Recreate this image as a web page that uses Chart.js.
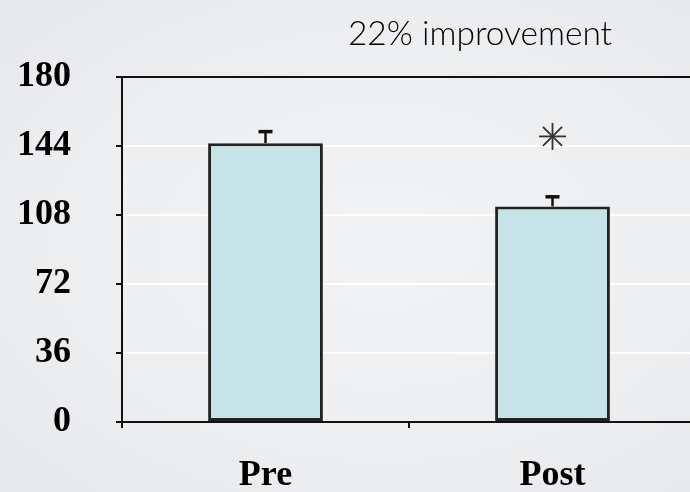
<!DOCTYPE html>
<html>
<head>
<meta charset="utf-8">
<script src="https://cdn.jsdelivr.net/npm/chart.js@4/dist/chart.umd.min.js"></script>
<style>
  html, body { margin: 0; padding: 0; width: 690px; height: 492px; overflow: hidden; }
  body {
    background: radial-gradient(ellipse at 55% 50%, #f2f3f5 0%, #eceef0 60%, #e6e8eb 100%);
    position: relative;
  }
  #wrap { position: absolute; left: 0; top: 0; width: 696px; height: 492px; }
  #title {
    position: absolute; left: 480px; top: 12px; transform: translateX(-50%);
    font-family: Lato, "Open Sans", sans-serif; font-weight: 300; font-size: 33.5px;
    color: #000; white-space: nowrap;
  }
</style>
</head>
<body>
<div id="wrap"><canvas id="c"></canvas></div>
<div id="title">22% improvement</div>
<script>
// Session means with their standard errors
const categories = ['Pre', 'Post'];
const means = [145.5, 112.5];
const errors = [6, 5];
const yTicks = [0, 36, 72, 108, 144, 180];
// significance marker sits above the second bar
const markerValue = 149;

const errorBars = {
  id: 'errorBars',
  afterDatasetsDraw(chart) {
    const { ctx, scales: { y } } = chart;
    const meta = chart.getDatasetMeta(0);
    ctx.save();
    ctx.strokeStyle = '#111';
    meta.data.forEach((bar, i) => {
      const yTop = y.getPixelForValue(means[i] + errors[i]);
      const yBase = y.getPixelForValue(means[i]);
      ctx.lineWidth = 2.5;
      ctx.beginPath();
      ctx.moveTo(bar.x, yBase);
      ctx.lineTo(bar.x, yTop);
      ctx.stroke();
      ctx.lineWidth = 3.5;
      ctx.beginPath();
      ctx.moveTo(bar.x - 7, yTop);
      ctx.lineTo(bar.x + 7, yTop);
      ctx.stroke();
    });
    // asterisk above the Post bar
    const bx = meta.data[1].x;
    const by = y.getPixelForValue(markerValue);
    const r = 13.5;
    ctx.strokeStyle = '#333';
    ctx.lineWidth = 1.8;
    for (let k = 0; k < 4; k++) {
      const a = k * Math.PI / 4;
      ctx.beginPath();
      ctx.moveTo(bx - r * Math.cos(a), by - r * Math.sin(a));
      ctx.lineTo(bx + r * Math.cos(a), by + r * Math.sin(a));
      ctx.stroke();
    }
    ctx.restore();
  }
};

new Chart(document.getElementById('c'), {
  type: 'bar',
  data: {
    labels: categories,
    datasets: [{
      data: means,
      backgroundColor: '#c6e3e8',
      borderColor: '#222',
      borderWidth: 3,
      borderSkipped: false,
      categoryPercentage: 1,
      barPercentage: 0.4
    }]
  },
  options: {
    responsive: true,
    maintainAspectRatio: false,
    animation: false,
    layout: { padding: { top: 77, left: 0, right: 0, bottom: 0 } },
    plugins: { legend: { display: false }, tooltip: { enabled: false }, title: { display: false } },
    scales: {
      x: {
        afterFit(s) { s.height = 70; },
        grid: { drawOnChartArea: false, drawTicks: true, tickLength: 6, tickColor: '#111', lineWidth: 2, offset: true },
        border: { color: '#111', width: 2 },
        ticks: { color: '#000', padding: 26, font: { family: '"Liberation Serif", "Times New Roman", serif', weight: 'bold', size: 36 } }
      },
      y: {
        min: 0, max: 180,
        afterFit(s) { s.width = 122; },
        afterBuildTicks(s) { s.ticks = yTicks.map(v => ({ value: v })); },
        grid: {
          color: c => (c.tick && c.tick.value === 180 ? '#111' : '#ffffff'),
          lineWidth: 2, tickLength: 6, tickColor: '#111'
        },
        border: { color: '#111', width: 2 },
        ticks: { color: '#000', padding: 45, font: { family: '"Liberation Serif", "Times New Roman", serif', weight: 'bold', size: 36 } }
      }
    }
  },
  plugins: [errorBars]
});
</script>
</body>
</html>
